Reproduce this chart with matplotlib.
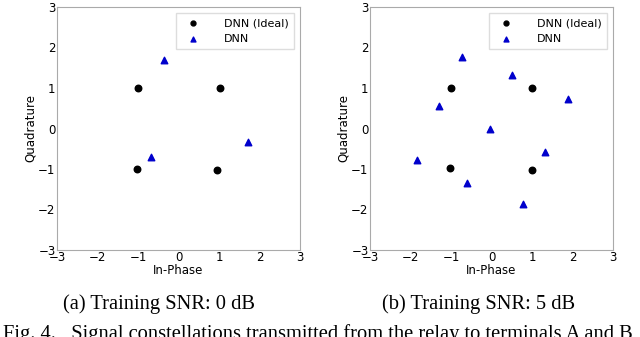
import matplotlib.pyplot as plt

# constellation points
ideal_i = [-1.01, 1.03, -1.03, 0.96]
ideal_q = [0.99, 1.0, -0.99, -1.02]
dnn0_i = [-0.37, 1.72, -0.69]
dnn0_q = [1.70, -0.34, -0.70]

ideal5_i = [-1.0, 0.99, -1.03, 0.99]
ideal5_q = [0.99, 0.99, -0.98, -1.03]
dnn5_i = [-0.73, 0.50, 1.90, -1.29, -0.04, -1.85, 1.33, -0.61, 0.78]
dnn5_q = [1.77, 1.31, 0.74, 0.55, 0.0, -0.78, -0.57, -1.34, -1.87]

ticks = [-3, -2, -1, 0, 1, 2, 3]
subcaps = ["(a) Training SNR: 0 dB", "(b) Training SNR: 5 dB"]
figcap = "Fig. 4.   Signal constellations transmitted from the relay to terminals A and B"

fig = plt.figure(figsize=(6.4, 3.37), dpi=100)

axes_pos = [[57/640, 1-250/337, 243/640, 243/337],
            [370/640, 1-250/337, 243/640, 243/337]]
cap_x = [159/640, 479/640]
data = [(ideal_i, ideal_q, dnn0_i, dnn0_q), (ideal5_i, ideal5_q, dnn5_i, dnn5_q)]

for k in range(2):
    ax = fig.add_axes(axes_pos[k])
    ii, iq, di, dq = data[k]
    ax.scatter(ii, iq, c='black', marker='o', s=22, label='DNN (Ideal)')
    ax.scatter(di, dq, c='#0000cc', marker='^', s=22, label='DNN')
    ax.set_xlim(-3, 3)
    ax.set_ylim(-3, 3)
    ax.set_xticks(ticks)
    ax.set_yticks(ticks)
    ax.tick_params(labelsize=8.5, length=0, pad=1)
    ax.set_xlabel('In-Phase', fontsize=8.5, labelpad=0)
    ax.set_ylabel('Quadrature', fontsize=8.5, labelpad=1)
    for s in ax.spines.values():
        s.set_color('#aaaaaa')
        s.set_linewidth(0.8)
    ax.legend(loc='upper right', fontsize=8, handletextpad=1.8, borderpad=0.5,
              markerscale=0.75, fancybox=False, edgecolor='#dddddd', framealpha=1)
    fig.text(cap_x[k], 1-309/337, subcaps[k], family='Liberation Serif',
             fontsize=14.8, ha='center', va='baseline')

fig.text(3/640, 1-339/337, figcap, family='Liberation Serif', fontsize=14.8,
         ha='left', va='baseline')

fig.savefig('out.png', dpi=100)
